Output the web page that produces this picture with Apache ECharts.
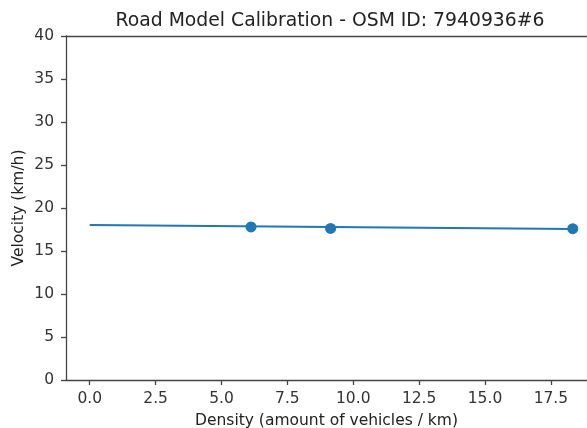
<!DOCTYPE html>
<html>
<head>
<meta charset="utf-8">
<script src="https://cdn.jsdelivr.net/npm/echarts@6/dist/echarts.min.js"></script>
<style>
html,body{margin:0;padding:0;background:#fff;}
#chart{width:587px;height:428px;}
</style>
</head>
<body>
<div id="chart"></div>
<script>
// Observed density / velocity measurements
const densities = [6.12, 9.14, 18.33];
const velocities = [17.8, 17.62, 17.6];
// Fitted road model line (endpoints)
const fitDensity = [0, 18.33];
const fitVelocity = [18.02, 17.55];
// Tick positions on the density axis
const xTicks = [0, 2.5, 5, 7.5, 10, 12.5, 15, 17.5];

const titleText = 'Road Model Calibration - OSM ID: 7940936#6';
const xLabel = 'Density (amount of vehicles / km)';
const yLabel = 'Velocity (km/h)';

const font = 'DejaVu Sans';
const blue = '#1f77b4';
const ink = '#333';
const spine = '#444';
const xMin = -0.9, xMax = 18.87;

const chart = echarts.init(document.getElementById('chart'));
chart.setOption({
  animation: false,
  backgroundColor: '#fff',
  title: {
    text: titleText,
    left: 325, top: 7, textAlign: 'center',
    textStyle: {fontFamily: font, fontSize: 18.8, fontWeight: 'normal', color: '#222'}
  },
  grid: {left: 66, right: 0, top: 36, bottom: 48, show: false, containLabel: false, outerBoundsMode: 'none'},
  xAxis: [{
    type: 'value', min: xMin, max: xMax,
    axisLine: {show: true, onZero: false, lineStyle: {color: spine, width: 1.3}},
    axisTick: {show: true, length: 5, lineStyle: {color: spine, width: 1.3}, customValues: xTicks},
    splitLine: {show: false},
    axisLabel: {
      fontFamily: font, fontSize: 15.5, color: ink, margin: 11,
      formatter: v => v.toFixed(1),
      customValues: xTicks
    },
    name: xLabel, nameLocation: 'middle', nameGap: 33,
    nameTextStyle: {fontFamily: font, fontSize: 15.5, color: '#222'}
  }, {
    // top frame line
    type: 'value', position: 'top', min: xMin, max: xMax,
    axisLine: {show: true, onZero: false, lineStyle: {color: spine, width: 1.3}},
    axisTick: {show: false}, axisLabel: {show: false}, splitLine: {show: false}
  }],
  yAxis: {
    type: 'value', min: 0, max: 40, interval: 5,
    axisLine: {show: true, onZero: false, lineStyle: {color: spine, width: 1.3}},
    axisTick: {show: true, length: 5, lineStyle: {color: spine, width: 1.3}},
    splitLine: {show: false},
    axisLabel: {fontFamily: font, fontSize: 15.5, color: ink, margin: 12},
    name: yLabel, nameLocation: 'middle', nameGap: 39, nameRotate: 90,
    nameMoveOverlap: false,
    nameTextStyle: {fontFamily: font, fontSize: 15.5, color: '#222'}
  },
  series: [
    {
      type: 'line',
      data: fitDensity.map((d, i) => [d, fitVelocity[i]]),
      showSymbol: false,
      lineStyle: {color: blue, width: 2},
      z: 2
    },
    {
      type: 'scatter',
      data: densities.map((d, i) => [d, velocities[i]]),
      symbolSize: 11,
      itemStyle: {color: blue, opacity: 1},
      z: 3
    }
  ]
});
</script>
</body>
</html>
